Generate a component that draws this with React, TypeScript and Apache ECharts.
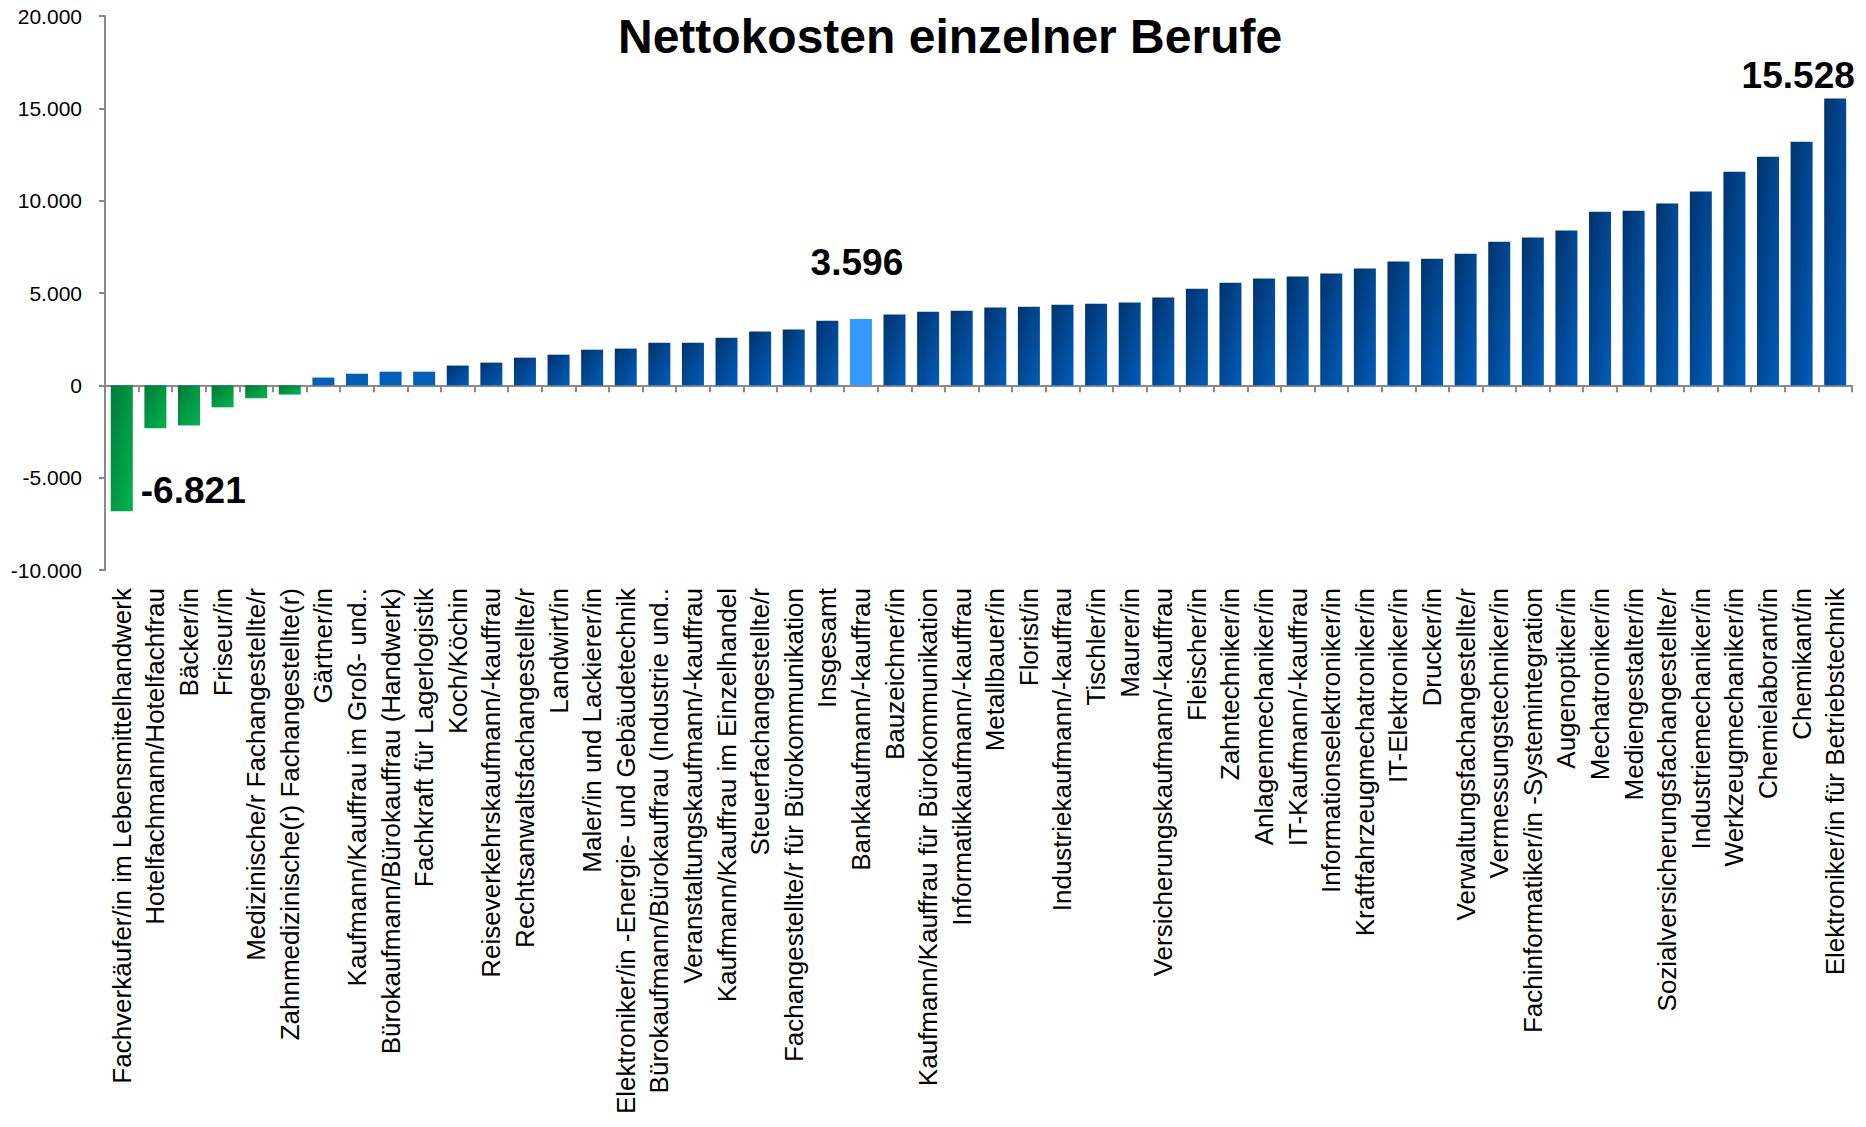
import React, { useEffect, useRef } from "react";
import * as echarts from "echarts";

const chartTitle = "Nettokosten einzelner Berufe";

const categories = [
  "Fachverkäufer/in im Lebensmittelhandwerk",
  "Hotelfachmann/Hotelfachfrau",
  "Bäcker/in",
  "Friseur/in",
  "Medizinische/r Fachangestellte/r",
  "Zahnmedizinische(r) Fachangestellte(r)",
  "Gärtner/in",
  "Kaufmann/Kauffrau im Groß- und..",
  "Bürokaufmann/Bürokauffrau (Handwerk)",
  "Fachkraft für Lagerlogistik",
  "Koch/Köchin",
  "Reiseverkehrskaufmann/-kauffrau",
  "Rechtsanwaltsfachangestellte/r",
  "Landwirt/in",
  "Maler/in und Lackierer/in",
  "Elektroniker/in -Energie- und Gebäudetechnik",
  "Bürokaufmann/Bürokauffrau (Industrie und..",
  "Veranstaltungskaufmann/-kauffrau",
  "Kaufmann/Kauffrau im Einzelhandel",
  "Steuerfachangestellte/r",
  "Fachangestellte/r für Bürokommunikation",
  "Insgesamt",
  "Bankkaufmann/-kauffrau",
  "Bauzeichner/in",
  "Kaufmann/Kauffrau für Bürokommunikation",
  "Informatikkaufmann/-kauffrau",
  "Metallbauer/in",
  "Florist/in",
  "Industriekaufmann/-kauffrau",
  "Tischler/in",
  "Maurer/in",
  "Versicherungskaufmann/-kauffrau",
  "Fleischer/in",
  "Zahntechniker/in",
  "Anlagenmechaniker/in",
  "IT-Kaufmann/-kauffrau",
  "Informationselektroniker/in",
  "Kraftfahrzeugmechatroniker/in",
  "IT-Elektroniker/in",
  "Drucker/in",
  "Verwaltungsfachangestellte/r",
  "Vermessungstechniker/in",
  "Fachinformatiker/in -Systemintegration",
  "Augenoptiker/in",
  "Mechatroniker/in",
  "Mediengestalter/in",
  "Sozialversicherungsfachangestellte/r",
  "Industriemechaniker/in",
  "Werkzeugmechaniker/in",
  "Chemielaborant/in",
  "Chemikant/in",
  "Elektroniker/in für Betriebstechnik",
];

const values = [
  -6821, -2330, -2170, -1190, -700, -500, 420, 630, 740, 740, 1070, 1230,
  1500, 1660, 1930, 1990, 2310, 2310, 2580, 2910, 3020, 3500, 3596, 3830,
  3990, 4040, 4210, 4260, 4370, 4420, 4480, 4750, 5230, 5560, 5780, 5890,
  6050, 6320, 6700, 6860, 7130, 7780, 8000, 8380, 9400, 9460, 9840, 10490,
  11570, 12380, 13190, 15528,
];

const yMin = -10000;
const yMax = 20000;
const yInterval = 5000;

const minIndex = 0;
const highlightIndex = 22;
const maxIndex = 51;

const FONT = "'Liberation Sans', Arial, Helvetica, sans-serif";

function fmt(v: number): string {
  const s = Math.abs(Math.round(v)).toString().replace(/\B(?=(\d{3})+(?!\d))/g, ".");
  return (v < 0 ? "-" : "") + s;
}

const labelStyle = {
  show: true,
  fontFamily: FONT,
  fontSize: 37,
  fontWeight: "bold" as const,
  color: "#000",
  formatter: (p: any) => fmt(p.value),
};

function buildData() {
  return values.map((v, i) => {
    let color: any;
    if (i === highlightIndex) {
      color = "#3399ff";
    } else if (v < 0) {
      color = new echarts.graphic.LinearGradient(0, 0, 1, 1, [
        { offset: 0, color: "#007a39" },
        { offset: 1, color: "#00b551" },
      ]);
    } else if (v < 1000) {
      color = "#005fb9";
    } else {
      color = new echarts.graphic.LinearGradient(0, 0, 1, 1, [
        { offset: 0, color: "#00336d" },
        { offset: 1, color: "#005dba" },
      ]);
    }
    const item: any = { value: v, itemStyle: { color } };
    if (i === minIndex) {
      item.label = { ...labelStyle, position: "right", distance: 8, offset: [0, 42] };
    } else if (i === highlightIndex) {
      item.label = { ...labelStyle, position: "top", distance: 38, offset: [-4, 0] };
    } else if (i === maxIndex) {
      item.label = { ...labelStyle, position: "top", distance: 5, offset: [-37, 0] };
    }
    return item;
  });
}

export default function App() {
  const ref = useRef<HTMLDivElement>(null);

  useEffect(() => {
    document.body.style.margin = "0";
    if (!ref.current) return;
    const chart = echarts.init(ref.current, undefined, { renderer: "svg" });
    const axisGrey = "#8a8a8a";
    chart.setOption({
      animation: false,
      backgroundColor: "#ffffff",
      title: {
        text: chartTitle,
        left: 618,
        top: 12,
        padding: 0,
        textStyle: {
          fontFamily: FONT,
          fontSize: 48,
          fontWeight: "bold",
          color: "#000",
        },
      },
      grid: {
        left: 105,
        right: 14,
        top: 16,
        bottom: 557,
        containLabel: false,
        outerBoundsMode: "none",
      },
      xAxis: [
        {
          type: "category",
          data: categories,
          position: "bottom",
          axisLine: { show: true, onZero: true, lineStyle: { color: axisGrey, width: 2 } },
          axisTick: { show: true, interval: 0, length: 7, lineStyle: { color: axisGrey, width: 2 } },
          axisLabel: { show: false, interval: 0 },
          splitLine: { show: false },
        },
        {
          type: "category",
          data: categories,
          position: "bottom",
          axisLine: { show: false, onZero: false },
          axisTick: { show: false },
          axisLabel: {
            show: true,
            interval: 0,
            rotate: 90,
            margin: 18,
            fontFamily: FONT,
            fontSize: 26,
            color: "#000",
          },
          splitLine: { show: false },
        },
      ],
      yAxis: {
        type: "value",
        min: yMin,
        max: yMax,
        interval: yInterval,
        axisLine: { show: true, onZero: false, lineStyle: { color: axisGrey, width: 2 } },
        axisTick: { show: true, length: 6, lineStyle: { color: axisGrey, width: 2 } },
        splitLine: { show: false },
        axisLabel: {
          margin: 23,
          fontFamily: FONT,
          fontSize: 21,
          color: "#000",
          formatter: (v: number) => fmt(v),
        },
      },
      series: [
        {
          type: "bar",
          xAxisIndex: 0,
          yAxisIndex: 0,
          barWidth: 22,
          data: buildData(),
        },
      ],
    });
    return () => {
      chart.dispose();
    };
  }, []);

  return (
    <div
      ref={ref}
      style={{ position: "absolute", left: 0, top: 0, width: 1866, height: 1127 }}
    />
  );
}
